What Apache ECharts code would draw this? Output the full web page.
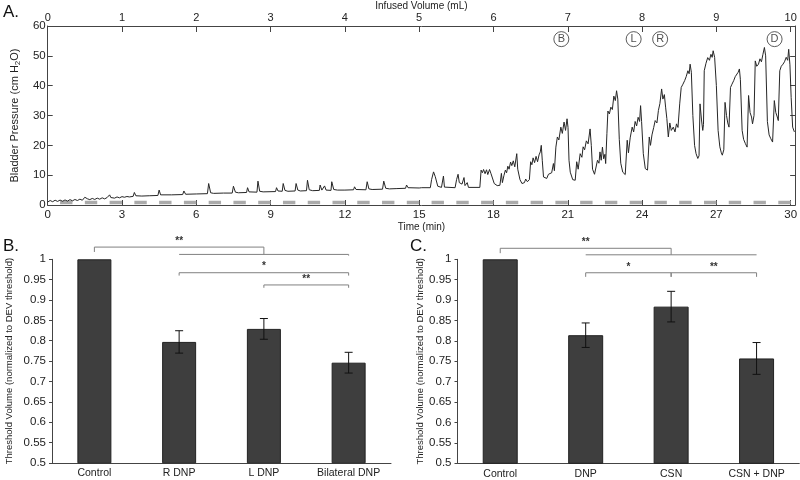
<!DOCTYPE html>
<html><head><meta charset="utf-8">
<script src="https://cdn.jsdelivr.net/npm/echarts@6/dist/echarts.min.js"></script>
<style>html,body{margin:0;padding:0;background:#fff}#c{width:800px;height:480px}</style>
</head><body><div id="c"></div>
<script>
// ---- Panel A data: bladder pressure trace [time (min), pressure (cm H2O)]
const pressureTrace = [
[0,1.0],[0.1,1.5],[0.2,1.1],[0.3,1.6],[0.4,1.2],[0.5,1.65],[0.6,1.25],[0.7,1.7],[0.8,1.3],[0.9,1.8],[1.0,1.4],[1.1,1.85],[1.2,1.5],[1.3,1.95],[1.4,1.6],[1.47,1.9],[1.5,2.6],[1.55,2.0],[1.6,2.1],[1.7,1.8],[1.8,2.2],[1.9,1.85],[2.0,2.3],[2.1,1.95],[2.2,2.4],[2.3,2.05],[2.4,2.5],[2.47,2.3],[2.5,3.4],[2.55,2.5],[2.6,2.6],[2.7,2.3],[2.8,2.7],[2.9,2.4],[3.0,2.8],[3.1,2.6],[3.2,2.85],[3.3,2.7],
[3.45,2.9],[3.5,4.2],[3.56,3.1],[3.8,3.0],[4.1,3.1],[4.45,3.2],[4.5,5.0],[4.56,3.4],[5.0,3.4],[5.45,3.5],[5.5,4.7],[5.57,3.6],[6.0,3.7],[6.45,3.8],[6.5,7.2],[6.58,4.1],[6.7,3.9],[7.1,4.0],[7.45,4.0],[7.5,6.3],[7.58,4.3],[7.7,4.1],
[8.03,4.2],[8.07,5.8],[8.13,4.4],[8.45,4.3],[8.49,8.0],[8.56,4.6],[8.7,4.4],[9.2,4.5],[9.24,5.8],[9.3,4.7],[9.47,4.6],[9.51,7.2],[9.58,4.9],[9.7,4.6],[9.99,4.7],[10.03,7.2],[10.1,5.0],[10.2,4.7],[10.45,4.8],[10.49,8.3],[10.56,5.1],[10.7,4.8],
[10.97,4.9],[11.0,6.7],[11.07,5.0],[11.15,4.9],[11.18,6.4],[11.24,5.0],[11.44,4.9],[11.47,7.8],[11.55,5.2],[11.7,5.0],[12.0,5.0],[12.35,5.1],[12.39,6.1],[12.45,5.2],[12.85,5.1],[12.9,7.8],[12.97,5.4],[13.1,5.2],[13.52,5.3],[13.57,8.0],[13.65,5.6],[13.8,5.4],[14.1,5.5],
[14.45,5.6],[14.49,6.7],[14.55,5.8],[15.0,5.7],[15.05,6.1],[15.1,5.8],[15.45,5.8],
[15.5,8.5],[15.58,11.1],[15.65,9.5],[15.75,6.3],[15.9,5.9],[15.98,9.7],[16.02,6.0],[16.45,5.8],[16.51,8.5],[16.57,10.3],[16.62,7.5],[16.68,7.8],[16.73,7.0],[16.81,9.2],[16.85,6.5],[16.94,7.5],[16.99,5.9],[17.45,5.9],
[17.5,11.7],[17.55,10.8],[17.6,11.9],[17.66,10.5],[17.72,11.8],[17.77,10.2],[17.84,11.9],[17.9,10.5],[17.95,11.0],[18.03,7.2],[18.15,6.5],[18.26,6.6],[18.32,10.6],[18.36,7.5],[18.42,9.8],[18.48,11.7],[18.53,10.8],[18.58,13.0],[18.63,12.0],[18.69,14.4],[18.74,13.2],[18.8,14.8],[18.86,12.8],[18.94,17.2],[18.98,12.0],[19.07,8.5],[19.15,7.2],[19.25,7.5],[19.3,8.7],[19.37,7.8],[19.45,8.5],
[19.5,14.5],[19.55,13.5],[19.6,15.8],[19.66,14.2],[19.72,16.3],[19.78,14.5],[19.84,16.8],[19.89,17.8],[19.93,20.0],[19.97,15.0],[20.02,9.4],[20.1,9.0],[20.15,8.9],[20.22,10.3],[20.29,9.8],[20.35,10.8],[20.42,13.9],[20.46,11.5],
[20.52,19.4],[20.58,22.8],[20.64,21.8],[20.72,26.1],[20.78,24.0],[20.85,27.8],[20.91,25.0],[20.97,28.9],[21.01,26.0],[21.05,15.0],[21.1,11.0],[21.2,8.5],[21.3,8.3],
[21.36,14.5],[21.42,12.0],[21.5,17.2],[21.57,16.0],[21.62,19.5],[21.68,18.5],[21.75,21.5],[21.82,20.5],[21.9,25.5],[21.95,20.0],[22.0,12.0],[22.08,10.3],[22.15,10.0],
[22.2,15.0],[22.26,14.0],[22.3,17.8],[22.35,15.0],[22.4,19.4],[22.45,15.5],[22.5,17.0],[22.53,13.9],
[22.58,24.0],[22.62,31.5],[22.68,30.5],[22.74,32.8],[22.8,32.0],[22.86,36.5],[22.92,35.0],[22.97,38.3],[23.02,35.5],[23.08,22.0],[23.14,14.0],[23.22,11.0],[23.32,10.2],
[23.4,21.7],[23.45,17.5],[23.52,22.5],[23.6,26.1],[23.66,24.5],[23.72,28.0],[23.78,26.5],[23.84,29.4],[23.9,28.0],[23.94,33.3],[23.98,28.0],[24.05,17.2],[24.13,12.2],[24.22,11.7],
[24.29,22.8],[24.34,20.0],[24.4,23.5],[24.47,26.0],[24.53,28.3],[24.6,27.5],[24.66,31.7],[24.72,34.0],[24.79,38.9],[24.84,35.5],[24.9,37.0],[24.95,32.8],[25.0,29.0],[25.06,22.8],[25.12,27.5],[25.18,25.0],[25.26,26.1],[25.33,24.5],[25.39,27.2],[25.45,26.0],
[25.52,33.9],[25.58,39.4],[25.65,40.5],[25.72,41.7],[25.78,43.0],[25.85,45.0],[25.9,44.0],[25.94,47.2],[25.99,44.5],[26.05,30.0],[26.12,20.0],[26.18,17.2],[26.25,15.6],[26.3,16.5],
[26.34,33.9],[26.4,28.5],[26.45,25.0],[26.48,27.0],
[26.51,45.0],[26.58,47.5],[26.65,49.4],[26.72,48.5],[26.78,50.5],[26.83,49.5],[26.87,51.7],[26.93,49.5],[27.0,40.0],[27.07,25.0],[27.14,19.5],[27.2,17.5],[27.24,16.7],[27.3,18.5],
[27.35,34.4],[27.41,30.0],[27.46,27.5],[27.51,26.1],
[27.57,39.4],[27.63,40.5],[27.7,41.7],[27.76,43.0],[27.82,42.5],[27.88,44.5],[27.93,45.6],[27.97,42.0],[28.04,25.0],[28.1,22.0],[28.17,20.6],[28.24,19.4],
[28.3,36.7],[28.36,31.0],[28.42,29.5],[28.46,27.2],[28.52,30.0],
[28.57,48.3],[28.63,46.5],[28.7,47.2],[28.76,49.0],[28.82,48.0],[28.88,50.5],[28.94,52.8],[28.99,50.0],[29.06,28.0],[29.13,23.5],[29.2,22.2],[29.27,21.1],
[29.34,35.0],[29.4,31.0],[29.46,29.5],[29.5,28.3],
[29.56,45.0],[29.62,46.5],[29.69,47.2],[29.75,48.0],[29.82,49.5],[29.88,48.5],[29.92,52.2],[29.97,47.0],[30.02,36.0],[30.08,26.1],[30.15,24.5]
];
// infusion-on periods [start, end] (min)
const pumpOn = [[0.5,1],[1.5,2],[2.5,3],[3.5,4],[4.5,5],[5.5,6],[6.5,7],[7.5,8],[8.5,9],[9.5,10],[10.5,11],[11.5,12],[12.5,13],[13.5,14],[14.5,15],[15.5,16],[16.5,17],[17.5,18],[18.5,19],[19.5,20],[20.5,21],[21.5,22],[22.5,23],[23.5,24],[24.5,25],[25.5,26],[26.5,27],[27.5,28],[28.5,29],[29.5,30]];
const pumpLevel = 0.8;
// event markers [time, pressure, letter]
const eventMarks = [[20.74,55.6,'B'],[23.66,55.6,'L'],[24.73,55.6,'R'],[29.35,55.6,'D']];

// ---- Panel B data
const catsB = ['Control','R DNP','L DNP','Bilateral DNP'];
const meanB = [1, 0.797, 0.829, 0.746];
const errB  = [0, 0.0275, 0.0255, 0.0255];
// significance brackets: [fromIdx, toIdx, lineY, leftEndY, rightEndY, label]
const sigB = [[0,2,1.030,1.018,1.012,'**'],[1,3,1.012,1.012,1.009,''],[1,3,0.967,0.960,0.960,'*'],[2,3,0.937,0.930,0.930,'**']];

// ---- Panel C data
const catsC = ['Control','DNP','CSN','CSN + DNP'];
const meanC = [1, 0.814, 0.884, 0.757];
const errC  = [0, 0.030, 0.0375, 0.039];
const sigC = [[0,2,1.027,1.015,1.011,'**'],[1,3,1.011,1.011,1.011,''],[1,2,0.967,0.957,0.957,'*'],[2,3,0.967,0.957,0.957,'**']];

const FONT = 'Liberation Sans';
const chart = echarts.init(document.getElementById('c'), null, {renderer:'canvas'});

const pumpData = [];
pumpOn.forEach(p => { pumpData.push([p[0], pumpLevel], [p[1], pumpLevel], '-'); });

function errSeries(means, errs, xi, yi) {
  return {
    type:'custom', xAxisIndex:xi, yAxisIndex:yi, silent:true, clip:false, z:5,
    data: means.map((m,i)=>[i, m, errs[i]]),
    renderItem: (params, api) => {
      const e = api.value(2);
      if (!e) return null;
      const i = api.value(0), m = api.value(1);
      const top = api.coord([i, m+e]), bot = api.coord([i, m-e]);
      const st = {stroke:'#111', lineWidth:1};
      return {type:'group', children:[
        {type:'line', shape:{x1:top[0],y1:top[1],x2:bot[0],y2:bot[1]}, style:st},
        {type:'line', shape:{x1:top[0]-4,y1:top[1],x2:top[0]+4,y2:top[1]}, style:st},
        {type:'line', shape:{x1:bot[0]-4,y1:bot[1],x2:bot[0]+4,y2:bot[1]}, style:st}
      ]};
    }
  };
}
function sigSeries(sig, xi, yi) {
  return {
    type:'custom', xAxisIndex:xi, yAxisIndex:yi, silent:true, clip:false, z:5,
    data: sig.map((s,k)=>[s[0], s[1], s[2], s[3], s[4], k]),
    renderItem: (params, api) => {
      const s = sig[api.value(5)];
      const a = api.coord([s[0], s[2]]), b = api.coord([s[1], s[2]]);
      const aE = api.coord([s[0], s[3]]), bE = api.coord([s[1], s[4]]);
      const ch = [{type:'polyline', shape:{points:[[aE[0],aE[1]],[a[0],a[1]],[b[0],b[1]],[bE[0],bE[1]]]}, style:{stroke:'#808080', lineWidth:1, fill:null}}];
      if (s[5]) ch.push({type:'text', style:{text:s[5], x:(a[0]+b[0])/2, y:a[1]-1, align:'center', verticalAlign:'bottom', font:'bold 10px '+FONT, fill:'#333'}});
      return {type:'group', children:ch};
    }
  };
}

const axisLineStyle = {color:'#444', width:1};
const txt = {color:'#222', fontFamily:FONT};

const option = {
  animation:false,
  backgroundColor:'#fff',
  textStyle:{fontFamily:FONT},
  grid:[
    {left:36.7, right:4, top:25, bottom:275},
    {left:52, right:409, top:259.3, bottom:17.2},
    {left:457.5, right:0.7, top:259.3, bottom:16.7}
  ],
  xAxis:[
    {gridIndex:0, type:'value', position:'bottom', min:0, max:30.18, interval:3,
     name:'Time (min)', nameLocation:'middle', nameGap:17, nameTextStyle:Object.assign({fontSize:10}, txt),
     axisLine:{onZero:false, lineStyle:axisLineStyle}, axisTick:{inside:true, length:5, lineStyle:axisLineStyle},
     axisLabel:Object.assign({fontSize:11.5, margin:4, showMaxLabel:false}, txt), splitLine:{show:false}},
    {gridIndex:0, type:'value', position:'top', min:0, max:10.06, interval:1,
     name:'Infused Volume (mL)', nameLocation:'middle', nameGap:15, nameTextStyle:Object.assign({fontSize:10}, txt),
     axisLine:{onZero:false, lineStyle:axisLineStyle}, axisTick:{inside:true, length:6, lineStyle:axisLineStyle},
     axisLabel:Object.assign({fontSize:11, margin:3, showMaxLabel:false}, txt), splitLine:{show:false}},
    {gridIndex:1, type:'category', data:catsB,
     axisLine:{onZero:false, lineStyle:axisLineStyle}, axisTick:{length:4, lineStyle:axisLineStyle},
     axisLabel:Object.assign({fontSize:10.5, margin:5}, txt)},
    {gridIndex:2, type:'category', data:catsC,
     axisLine:{onZero:false, lineStyle:axisLineStyle}, axisTick:{length:4, lineStyle:axisLineStyle},
     axisLabel:Object.assign({fontSize:10.5, margin:5}, txt)}
  ],
  yAxis:[
    {gridIndex:0, type:'value', min:0, max:60, interval:10,
     name:'Bladder Pressure (cm H{s|2}O)', nameLocation:'middle', nameGap:23, nameRotate:90,
     nameTextStyle:Object.assign({fontSize:11, rich:{s:{fontSize:8, verticalAlign:'bottom', lineHeight:14, padding:[6,0,0,0]}}}, txt),
     axisLine:{show:true, onZero:false, lineStyle:axisLineStyle}, axisTick:{show:true, inside:true, length:5, lineStyle:axisLineStyle},
     axisLabel:Object.assign({fontSize:11.5, margin:2}, txt), splitLine:{show:false}},
    {gridIndex:0, type:'value', position:'right', min:0, max:60, interval:10,
     axisLine:{show:true, onZero:false, lineStyle:axisLineStyle}, axisTick:{show:true, inside:true, length:5, lineStyle:axisLineStyle},
     axisLabel:{show:false}, splitLine:{show:false}},
    {gridIndex:1, type:'value', min:0.5, max:1, interval:0.05,
     name:'Threshold Volume (normalized to DEV threshold)', nameLocation:'middle', nameGap:38, nameRotate:90,
     nameTextStyle:Object.assign({fontSize:9.5}, txt),
     axisLine:{show:true, onZero:false, lineStyle:axisLineStyle}, axisTick:{show:true, length:3, lineStyle:axisLineStyle},
     axisLabel:Object.assign({fontSize:11.5, margin:6}, txt), splitLine:{show:false}},
    {gridIndex:2, type:'value', min:0.5, max:1, interval:0.05,
     name:'Threshold Volume (normalized to DEV threshold)', nameLocation:'middle', nameGap:32, nameRotate:90,
     nameTextStyle:Object.assign({fontSize:9.5}, txt),
     axisLine:{show:true, onZero:false, lineStyle:axisLineStyle}, axisTick:{show:true, length:3, lineStyle:axisLineStyle},
     axisLabel:Object.assign({fontSize:11.5, margin:6}, txt), splitLine:{show:false}}
  ],
  series:[
    {type:'line', xAxisIndex:0, yAxisIndex:0, data:pumpData, symbol:'none', connectNulls:false,
     lineStyle:{color:'#aaaaaa', width:3.5, cap:'butt'}, z:2, silent:true},
    {type:'line', xAxisIndex:0, yAxisIndex:0, data:pressureTrace, symbol:'none',
     lineStyle:{color:'#262626', width:1}, z:3, silent:true, clip:true},
    {type:'scatter', xAxisIndex:0, yAxisIndex:0, data:eventMarks, symbol:'circle', symbolSize:15,
     itemStyle:{color:'#fff', borderColor:'#333', borderWidth:1}, z:4, silent:true,
     label:{show:true, position:'inside', formatter:p=>p.value[2], fontSize:11, color:'#222', fontFamily:FONT}},
    {type:'bar', xAxisIndex:2, yAxisIndex:2, data:meanB, barWidth:34,
     itemStyle:{color:'#3e3e3e', borderColor:'#222', borderWidth:1}, silent:true},
    errSeries(meanB, errB, 2, 2),
    sigSeries(sigB, 2, 2),
    {type:'bar', xAxisIndex:3, yAxisIndex:3, data:meanC, barWidth:35,
     itemStyle:{color:'#3e3e3e', borderColor:'#222', borderWidth:1}, silent:true},
    errSeries(meanC, errC, 3, 3),
    sigSeries(sigC, 3, 3)
  ],
  graphic:[
    {type:'text', left:3, top:4, style:{text:'A.', font:'17px '+FONT, fill:'#111'}},
    {type:'text', left:3, top:238, style:{text:'B.', font:'17px '+FONT, fill:'#111'}},
    {type:'text', left:410, top:238, style:{text:'C.', font:'17px '+FONT, fill:'#111'}}
  ]
};
chart.setOption(option);
</script></body></html>
